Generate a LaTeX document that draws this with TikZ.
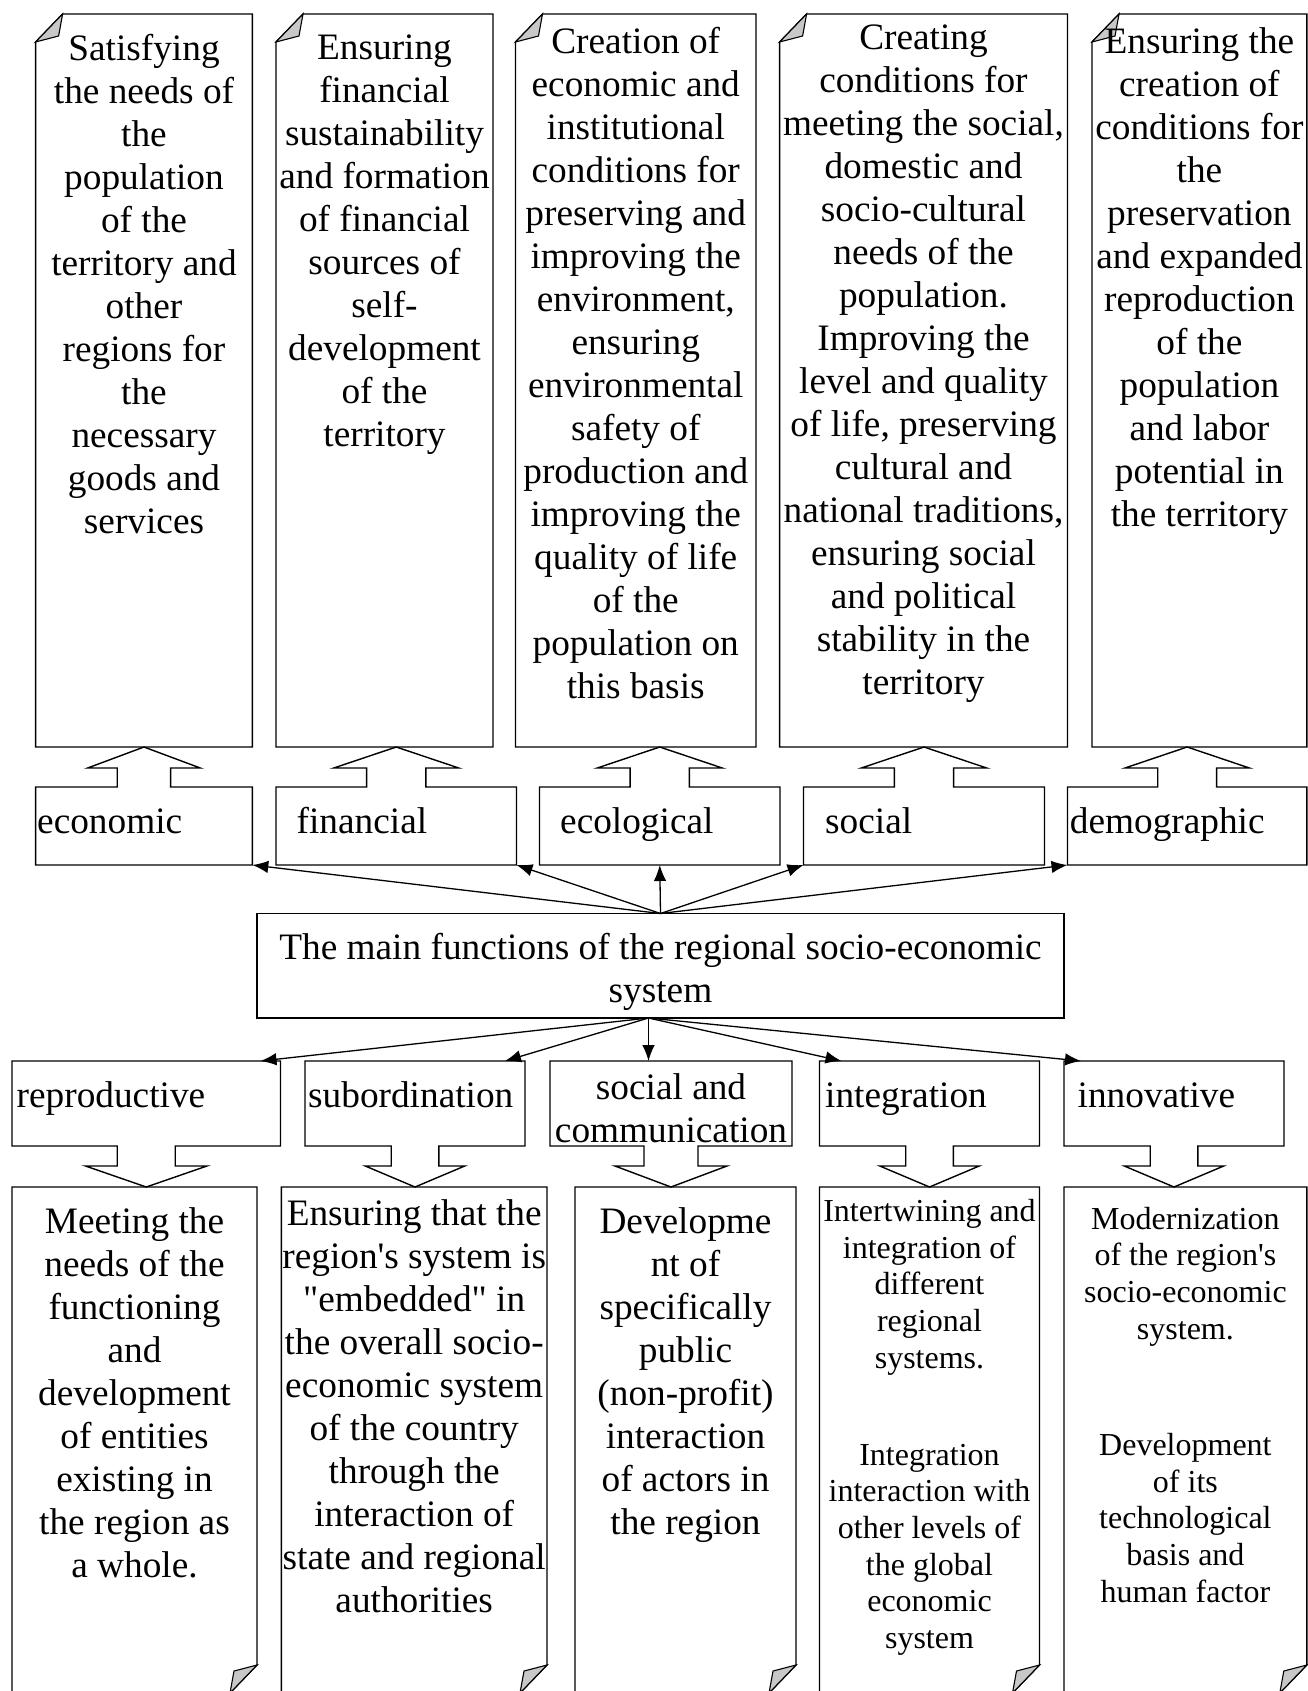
\documentclass[tikz,border=0pt]{standalone}
\usepackage{fontspec}
\setmainfont{Liberation Serif}[Ligatures=TeXOff]
\usepackage{tikz}
\usetikzlibrary{arrows.meta,positioning,calc}
\definecolor{ink}{HTML}{000000}
\definecolor{flap}{HTML}{C8C8C8}

\begin{document}
\begin{tikzpicture}[x=1pt,y=-1pt,
  card/.style={anchor=north west,inner sep=0pt,outer sep=0pt},
  outline/.style={ink,line width=1.4pt,line join=miter},
  fold/.style={outline,fill=flap,line width=1.1pt},
  link/.style={ink,line width=1.3pt,-{Latex[length=16pt,width=12.5pt]}},
  txt/.style={font=\fontsize{37.3}{43}\selectfont,align=center,inner sep=0pt,anchor=north},
  stxt/.style={txt,font=\fontsize{32}{36.7}\selectfont},
  lbl/.style={font=\fontsize{37.3}{43}\selectfont,inner sep=0pt,anchor=base west}]
  \useasboundingbox (0,0) rectangle (1308,1691);

  % goals on top, corner curled
  \foreach \n/\x/\w in {tb1/35.6/216.7,tb2/276/217,tb3/515.5/240.5,tb4/779.6/287.9,tb5/1092/214.8} {
    \node[card,minimum width=\w pt,minimum height=733pt] (\n) at (\x,14) {};
    \draw[outline] ([xshift=27pt]\n.north west) -- (\n.north east) -- (\n.south east)
      -- (\n.south west) -- ([yshift=-28pt]\n.north west) -- cycle;
    \filldraw[fold] ([yshift=-28pt]\n.north west) -- ([shift={(23pt,-22pt)}]\n.north west)
      -- ([xshift=27pt]\n.north west) -- cycle;
  }

  % function labels with up arrows
  \foreach \n/\x/\w/\a/\s in {lb1/35.6/216.7/56.3/26.7,lb2/276/240.5/62.5/29.6,lb3/539.5/240.5/62.5/29.6,lb4/803.5/241/62.7/29.6,lb5/1067.5/239.3/62.2/29.4} {
    \node[card,minimum width=\w pt,minimum height=78pt] (\n) at (\x,787) {};
    \draw[outline] (\n.north west) -- ([xshift=-\s pt]\n.north) -- ([xshift=-\s pt,yshift=19pt]\n.north)
      -- ([xshift=-\a pt,yshift=19pt]\n.north) -- ([yshift=40pt]\n.north)
      -- ([xshift=\a pt,yshift=19pt]\n.north) -- ([xshift=\s pt,yshift=19pt]\n.north)
      -- ([xshift=\s pt]\n.north) -- (\n.north east) -- (\n.south east) -- (\n.south west) -- cycle;
  }

  \node[card,outline,draw,minimum width=807pt,minimum height=104.5pt] (main) at (257,913.5) {};

  % function labels with down arrows
  \foreach \n/\x/\w/\a/\s in {bl1/12/268.5/60.7/29,bl2/305/220/49.7/23.8,bl3/550/242/56/27,bl4/819.5/220/49.7/23.8,bl5/1064/220/49.7/23.8} {
    \node[card,minimum width=\w pt,minimum height=85pt] (\n) at (\x,1061) {};
    \draw[outline] (\n.south west) -- (\n.north west) -- (\n.north east) -- (\n.south east)
      -- ([xshift=\s pt]\n.south) -- ([xshift=\s pt,yshift=-20pt]\n.south)
      -- ([xshift=\a pt,yshift=-20pt]\n.south) -- ([yshift=-41pt]\n.south)
      -- ([xshift=-\a pt,yshift=-20pt]\n.south) -- ([xshift=-\s pt,yshift=-20pt]\n.south)
      -- ([xshift=-\s pt]\n.south) -- cycle;
  }

  % descriptions below, corner curled
  \foreach \n/\x/\w in {bb1/12/245,bb2/281.4/265.6,bb3/575/221,bb4/819.5/220,bb5/1064/242.8} {
    \node[card,minimum width=\w pt,minimum height=506pt] (\n) at (\x,1187) {};
    \draw[outline] (\n.north west) -- (\n.north east) -- ([yshift=28pt]\n.south east)
      -- ([xshift=-27pt]\n.south east) -- (\n.south west) -- cycle;
    \filldraw[fold] ([yshift=28pt]\n.south east) -- ([shift={(-23pt,22pt)}]\n.south east)
      -- ([xshift=-27pt]\n.south east) -- cycle;
  }

  % connectors
  \foreach \t in {lb1.south east,lb2.south east,lb3.south,lb4.south west,lb5.south west}
    \draw[link] (main.north) -- (\t);
  \coordinate (hub) at ([xshift=-12pt]main.south);
  \draw[link] (hub) -- ([xshift=-20pt]bl1.north east);
  \draw[link] (hub) -- ([xshift=-20pt]bl2.north east);
  \draw[link] (hub) -- (hub |- bl3.north);
  \draw[link] (hub) -- ([xshift=22pt]bl4.north west);
  \draw[link] (hub) -- ([xshift=17pt]bl5.north west);

  % texts
  \node[txt] (tx1) at (144,34.5) {Satisfying\\the needs of\\the\\population\\of the\\territory and\\other\\regions for\\the\\necessary\\goods and\\services};
  \node[txt] (tx2) at (384.5,34.5) {Ensuring\\financial\\sustainability\\and formation\\of financial\\sources of\\self-\\development\\of the\\territory};
  \node[txt] (tx3) at (635.75,27) {Creation of\\economic and\\institutional\\conditions for\\preserving and\\improving the\\environment,\\ensuring\\environmental\\safety of\\production and\\improving the\\quality of life\\of the\\population on\\this basis};
  \node[txt] (tx4) at (923.5,24.8) {Creating\\conditions for\\meeting the social,\\domestic and\\socio-cultural\\needs of the\\population.\\Improving the\\level and quality\\of life, preserving\\cultural and\\national traditions,\\ensuring social\\and political\\stability in the\\territory};
  \node[txt] (tx5) at (1199.4,27) {Ensuring the\\creation of\\conditions for\\the\\preservation\\and expanded\\reproduction\\of the\\population\\and labor\\potential in\\the territory};

  \node[lbl] at (37,833) {economic};
  \node[lbl] at (296.5,833) {financial};
  \node[lbl] at (560,833) {ecological};
  \node[lbl] at (825,833) {social};
  \node[lbl] at (1069.7,833) {demographic};

  \node[txt] (mtx) at (660.5,932.8) {The main functions of the regional socio-economic\\system};

  \node[lbl] at (16.5,1107) {reproductive};
  \node[lbl] at (308,1107) {subordination};
  \node[txt] at (671,1073) {social and\\communication};
  \node[lbl] at (825,1107) {integration};
  \node[lbl] at (1077.5,1107) {innovative};

  \node[txt] (bx1) at (134.5,1207.7) {Meeting the\\needs of the\\functioning\\and\\development\\of entities\\existing in\\the region as\\a whole.};
  \node[txt] (bx2) at (414.2,1199.1) {Ensuring that the\\region's system is\\"embedded" in\\the overall socio-\\economic system\\of the country\\through the\\interaction of\\state and regional\\authorities};
  \node[txt] (bx3) at (685.5,1207.7) {Developme\\nt of\\specifically\\public\\(non-profit)\\interaction\\of actors in\\the region};
  \node[stxt] (bx4) at (929.5,1199.1) {Intertwining and\\integration of\\different\\regional\\systems.\\[60.1pt]Integration\\interaction with\\other levels of\\the global\\economic\\system};
  \node[stxt] (bx5) at (1185.4,1206.6) {Modernization\\of the region's\\socio-economic\\system.\\[79.7pt]Development\\of its\\technological\\basis and\\human factor};
\end{tikzpicture}
\end{document}
